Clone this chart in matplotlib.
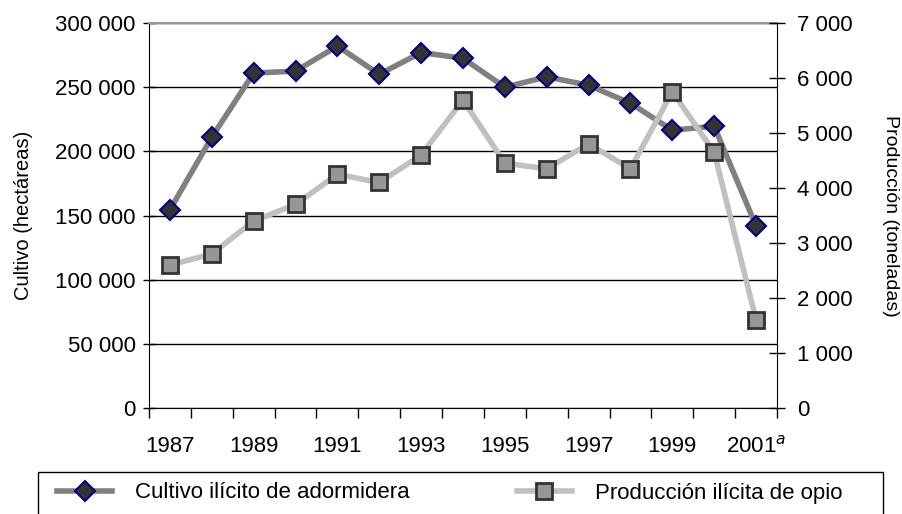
import numpy as np
import matplotlib
matplotlib.use("Agg")
import matplotlib.pyplot as plt
from matplotlib.lines import Line2D
from matplotlib.patches import Rectangle
from matplotlib.ticker import FuncFormatter, MultipleLocator

plt.rcParams["font.family"] = ["Liberation Sans", "DejaVu Sans"]

years = [1987, 1988, 1989, 1990, 1991, 1992, 1993, 1994, 1995, 1996,
         1997, 1998, 1999, 2000, 2001]
cultivo = [154500, 211000, 261000, 262500, 282000, 260000, 277000, 272500,
           250000, 258000, 251500, 237500, 216500, 219500, 141800]
produccion = [2600, 2800, 3400, 3700, 4250, 4100, 4600, 5600,
              4450, 4350, 4800, 4350, 5750, 4650, 1600]
xlabels = ["1987", "1989", "1991", "1993", "1995", "1997", "1999", "2001$^{a}$"]

def miles(v, pos):
    return f"{int(v):,}".replace(",", " ")

FS = 16
fig = plt.figure(figsize=(9.02, 5.14), dpi=100)
ax = fig.add_axes([149 / 902, 1 - 408 / 514, 628 / 902, 385 / 514])
x = np.arange(len(years))

ax.set_xlim(-0.5, len(years) - 0.5)
ax.set_ylim(0, 300000)
ax.yaxis.set_major_locator(MultipleLocator(50000))
ax.yaxis.set_major_formatter(FuncFormatter(miles))
ax.grid(axis="y", color="black", lw=1)
ax.set_axisbelow(True)

ax.plot(x, cultivo, color="#808080", lw=4, marker="D", ms=10,
        mfc="#333333", mec="#000080", mew=1.5, zorder=3)

ax.set_xticks(np.arange(-0.5, len(years), 1))
ax.set_xticklabels([])
ax.set_xticks(x[::2], minor=True)
ax.set_xticklabels(xlabels, minor=True)
ax.tick_params(axis="x", which="major", length=7, width=1, direction="out")
ax.tick_params(axis="x", which="minor", length=0, pad=20, labelsize=FS)
ax.tick_params(axis="y", length=9, width=1, direction="inout", labelsize=FS, pad=5)

for s in ["left", "bottom"]:
    ax.spines[s].set_color("black")
ax.spines["top"].set_color("#999999")
ax.spines["top"].set_linewidth(1.5)
ax.spines["right"].set_visible(False)
ax.set_ylabel("Cultivo (hectáreas)", fontsize=14.5, labelpad=16)

ax2 = ax.twinx()
ax2.set_ylim(0, 7000)
ax2.yaxis.set_major_locator(MultipleLocator(1000))
ax2.yaxis.set_major_formatter(FuncFormatter(miles))
ax2.tick_params(axis="y", length=11, width=1, direction="inout", labelsize=FS, pad=9)
for s in ["left", "top", "bottom"]:
    ax2.spines[s].set_visible(False)
ax2.spines["right"].set_color("black")
ax2.plot(x, produccion, color="#c0c0c0", lw=4, marker="s", ms=12,
         mfc="#969696", mec="#333333", mew=2, zorder=3)
ax2.set_ylabel("Producción (toneladas)", fontsize=14, rotation=270, labelpad=33)

# legend box, cut off at the bottom of the image
fig.patches.append(Rectangle((38 / 902, -0.1), 845 / 902, 0.1 + (514 - 472) / 514,
                             transform=fig.transFigure, fill=False,
                             ec="black", lw=1))
handles = [
    Line2D([], [], color="#808080", lw=4, marker="D", ms=10,
           mfc="#333333", mec="#000080", mew=1.5),
    Line2D([], [], color="#c0c0c0", lw=4, marker="s", ms=12,
           mfc="#969696", mec="#333333", mew=2),
]
fig.legend(handles, ["Cultivo ilícito de adormidera", "Producción ilícita de opio"],
           ncol=2, loc="center left", bbox_to_anchor=(57 / 902, 1 - 493 / 514),
           frameon=False, fontsize=FS, handlelength=2.48, columnspacing=4.8,
           handletextpad=1.05, borderpad=0, borderaxespad=0)

fig.savefig("out.png", dpi=100)
